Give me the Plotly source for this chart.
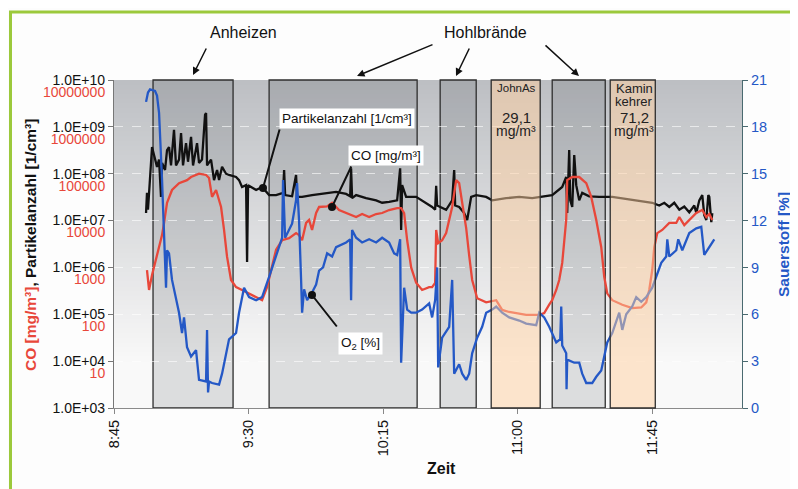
import plotly.graph_objects as go

DAY = "2010-01-01 "

# ---------------- data ----------------
# Partikelanzahl [1/cm3]
pn_time = ["08:55:43", "08:56:02", "08:56:22", "08:56:43", "08:57:23", "08:57:43", "08:58:23", "08:59:23",
           "09:00:04", "09:00:43", "09:01:04", "09:02:04", "09:02:44", "09:03:24", "09:04:04", "09:05:04",
           "09:05:44", "09:06:45", "09:07:25", "09:08:05", "09:09:05", "09:09:45", "09:10:46", "09:11:26",
           "09:12:46", "09:13:26", "09:14:26", "09:15:27", "09:15:47", "09:16:07", "09:17:27", "09:18:27",
           "09:19:28", "09:20:08", "09:21:08", "09:22:28", "09:23:28", "09:25:49", "09:26:49", "09:27:49",
           "09:29:10", "09:29:30", "09:29:50", "09:32:31", "09:34:31", "09:36:52", "09:39:12", "09:41:32",
           "09:41:53", "09:42:13", "09:44:33", "09:45:53", "09:46:13", "09:47:54", "09:51:14", "09:55:56",
           "09:59:16", "10:02:37", "10:03:58", "10:04:17", "10:04:37", "10:05:58", "10:09:18", "10:12:39",
           "10:14:40", "10:17:00", "10:19:41", "10:20:41", "10:21:01", "10:21:21", "10:22:41", "10:26:02",
           "10:29:23", "10:31:23", "10:32:23", "10:32:44", "10:33:04", "10:36:04", "10:38:05", "10:38:45",
           "10:39:05", "10:40:25", "10:42:06", "10:43:06", "10:44:26", "10:46:07", "10:49:27", "10:51:28",
           "10:56:09", "11:00:30", "11:04:51", "11:11:32", "11:14:53", "11:16:13", "11:16:33", "11:17:13",
           "11:17:34", "11:18:14", "11:18:54", "11:19:34", "11:20:34", "11:21:34", "11:23:55", "11:27:16",
           "11:31:37", "11:34:58", "11:39:38", "11:42:59", "11:44:59", "11:47:20", "11:49:01", "11:50:41",
           "11:52:21", "11:54:02", "11:55:42", "11:57:22", "11:59:03", "11:59:43", "12:00:43", "12:01:43",
           "12:02:23", "12:03:04", "12:03:44", "12:04:04", "12:04:44", "12:05:04"]
pn_value = [1.45e7, 3.9e7, 1.7e7, 4.5e7, 2.0e8, 3.7e8, 2.5e8, 1.4e8,
            2.0e8, 3.2e7, 1.7e8, 1.2e8, 3.2e8, 3.7e8, 1.5e8, 8.6e8,
            1.5e8, 2.0e8, 7.4e8, 1.5e8, 4.5e8, 1.8e8, 6.1e8, 1.5e8,
            4.5e8, 1.7e8, 2.0e8, 1.8e9, 1.98e9, 1.5e8, 2.0e8, 7.3e7,
            1.2e8, 7.3e7, 1.4e8, 1.0e8, 9.4e7, 8.5e7, 7.3e7, 5.2e7,
            5.7e7, 1.3e6, 5.7e7, 4.5e7, 5.2e7, 3.5e7, 3.5e7, 3.9e7,
            1.2e8, 3.5e7, 3.3e7, 9.4e7, 3.2e7, 3.2e7, 3.5e7, 3.9e7,
            4.1e7, 3.7e7, 3.3e7, 1.3e8, 3.0e7, 3.5e7, 3.0e7, 2.7e7,
            2.4e7, 2.5e7, 2.7e7, 1.3e8, 6.3e6, 5.7e7, 3.2e7, 3.2e7,
            2.4e7, 1.95e7, 1.7e7, 5.5e7, 2.1e7, 1.7e7, 2.7e7, 1.2e8,
            2.1e7, 1.95e7, 1.45e7, 1.03e7, 3.2e7, 3.5e7, 3.2e7, 2.7e7,
            3.0e7, 3.2e7, 3.0e7, 3.5e7, 5.2e7, 8.5e7, 1.45e7, 3.2e8,
            2.7e7, 1.95e7, 2.5e8, 5.7e7, 2.7e7, 3.9e7, 3.3e7, 3.2e7,
            3.2e7, 3.0e7, 2.7e7, 2.5e7, 2.4e7, 2.1e7, 2.4e7, 1.95e7,
            2.4e7, 1.7e7, 2.0e7, 1.5e7, 2.1e7, 1.45e7, 2.7e7, 3.5e7,
            1.3e7, 1.03e7, 3.5e7, 3.2e7, 9.3e6, 1.45e7]

# CO [mg/m3]
co_time = ["08:56:02", "08:56:43", "08:57:43", "08:58:43", "09:00:04", "09:01:04", "09:01:44", "09:02:44",
           "09:04:24", "09:06:45", "09:09:25", "09:10:46", "09:13:26", "09:15:47", "09:16:47", "09:17:47",
           "09:19:08", "09:20:48", "09:21:48", "09:22:48", "09:24:08", "09:25:49", "09:27:49", "09:30:10",
           "09:32:31", "09:34:31", "09:36:11", "09:37:52", "09:39:12", "09:41:13", "09:43:33", "09:45:53",
           "09:46:53", "09:47:54", "09:49:14", "09:50:14", "09:51:14", "09:52:35", "09:53:35", "09:56:16",
           "09:57:56", "10:00:16", "10:02:37", "10:04:37", "10:05:58", "10:07:58", "10:10:19", "10:12:39",
           "10:14:40", "10:17:00", "10:19:41", "10:21:01", "10:22:01", "10:23:02", "10:24:22", "10:26:02",
           "10:28:02", "10:30:23", "10:31:23", "10:32:23", "10:32:44", "10:33:24", "10:34:44", "10:36:04",
           "10:37:05", "10:38:05", "10:39:25", "10:40:25", "10:41:26", "10:42:46", "10:43:46", "10:44:46",
           "10:46:27", "10:48:07", "10:49:27", "10:52:48", "10:54:48", "10:57:09", "11:00:30", "11:02:50",
           "11:07:11", "11:08:52", "11:10:32", "11:11:32", "11:12:53", "11:13:53", "11:14:53", "11:16:13",
           "11:16:33", "11:18:14", "11:20:34", "11:22:55", "11:24:35", "11:26:16", "11:27:56", "11:28:56",
           "11:29:56", "11:31:37", "11:34:58", "11:38:18", "11:41:19", "11:42:59", "11:43:59", "11:44:59",
           "11:45:40", "11:46:40", "11:48:20", "11:50:41", "11:53:01", "11:54:02", "11:55:42", "11:57:22",
           "11:59:43", "12:01:43", "12:03:04", "12:04:04", "12:05:04"]
co_value = [880, 330, 690, 1300, 3000, 4900, 8900, 24000,
            45000, 63000, 73000, 85000, 100000, 94000, 81000, 32000,
            45000, 19500, 6300, 1700, 540, 380, 330, 280,
            230, 200, 380, 1000, 2400, 3800, 4200, 5400,
            4900, 3800, 8900, 10300, 6300, 14500, 19500, 20000,
            24000, 16800, 14500, 13100, 11900, 13800, 11900, 13800,
            14500, 16800, 18500, 18500, 14500, 3800, 1000, 470,
            330, 380, 380, 470, 6300, 3300, 3800, 5400,
            10300, 19500, 73000, 63000, 24000, 6900, 1800, 540,
            220, 200, 180, 200, 124, 112, 101, 97,
            97, 106, 160, 200, 330, 540, 1250, 10300,
            73000, 85000, 85000, 63000, 32000, 10300, 2700, 630,
            280, 200, 160, 136, 140, 180, 330, 880,
            2700, 5400, 6300, 8900, 8900, 11900, 8000, 10300,
            14500, 16800, 11900, 13800, 10300]

# Sauerstoff [%]
o2_time = ["08:55:43", "08:56:22", "08:57:03", "08:58:43", "08:59:23", "09:00:04", "09:01:04", "09:01:44",
           "09:02:04", "09:02:24", "09:02:44", "09:03:24", "09:04:24", "09:05:44", "09:06:45", "09:07:45",
           "09:08:25", "09:09:25", "09:10:46", "09:12:26", "09:13:26", "09:15:47", "09:16:07", "09:16:27",
           "09:16:47", "09:17:47", "09:20:08", "09:21:08", "09:22:28", "09:23:28", "09:25:49", "09:26:49",
           "09:28:29", "09:30:10", "09:32:31", "09:34:31", "09:36:52", "09:39:12", "09:40:12", "09:41:13",
           "09:41:32", "09:42:13", "09:44:33", "09:45:53", "09:46:13", "09:46:53", "09:47:34", "09:47:54",
           "09:48:34", "09:49:34", "09:51:14", "09:52:35", "09:53:35", "09:54:55", "09:56:16", "09:57:56",
           "09:59:16", "10:02:37", "10:03:58", "10:04:17", "10:04:37", "10:05:58", "10:07:58", "10:10:19",
           "10:12:39", "10:14:40", "10:17:00", "10:18:41", "10:19:41", "10:20:41", "10:21:01", "10:22:01",
           "10:23:02", "10:24:22", "10:26:02", "10:28:02", "10:30:23", "10:31:23", "10:32:23", "10:33:04",
           "10:33:24", "10:34:44", "10:37:05", "10:38:05", "10:38:45", "10:40:25", "10:41:26", "10:42:46",
           "10:43:46", "10:44:46", "10:46:27", "10:48:07", "10:49:27", "10:51:28", "10:52:48", "10:54:48",
           "10:57:09", "11:00:30", "11:02:50", "11:06:11", "11:07:11", "11:08:52", "11:10:32", "11:12:53",
           "11:14:13", "11:14:33", "11:14:53", "11:16:13", "11:16:20", "11:16:33", "11:18:54", "11:20:34",
           "11:21:34", "11:22:55", "11:24:55", "11:26:16", "11:27:56", "11:28:56", "11:29:56", "11:31:37",
           "11:32:57", "11:33:57", "11:34:58", "11:36:17", "11:38:18", "11:39:38", "11:41:19", "11:42:59",
           "11:44:59", "11:46:40", "11:48:00", "11:49:40", "11:50:01", "11:50:41", "11:53:01", "11:53:41",
           "11:55:02", "11:57:22", "11:59:43", "12:01:23", "12:01:43", "12:02:23", "12:03:44", "12:05:44"]
o2_value = [19.6, 20.2, 20.4, 20.3, 20.0, 18.9, 14.6, 11.4,
            10.3, 7.7, 10.1, 9.9, 8.2, 6.9, 6.1, 4.8,
            5.8, 3.9, 3.3, 3.7, 1.8, 1.7, 5.0, 1.0,
            1.7, 1.6, 1.5, 2.2, 3.5, 4.4, 4.8, 6.1,
            7.7, 7.1, 6.9, 7.1, 8.4, 9.7, 10.3, 10.9,
            14.6, 10.9, 11.8, 13.3, 14.4, 12.0, 8.2, 6.1,
            7.6, 6.9, 7.4, 7.9, 8.8, 9.0, 9.9, 9.7,
            10.3, 10.6, 10.8, 6.9, 11.4, 10.9, 10.6, 10.8,
            10.6, 10.9, 10.6, 9.9, 9.8, 10.8, 2.9, 7.7,
            6.3, 6.1, 6.1, 6.3, 6.7, 5.8, 6.9, 9.0,
            2.6, 4.5, 5.2, 8.2, 2.2, 2.8, 2.2, 1.8,
            2.2, 3.5, 4.5, 5.2, 6.1, 6.3, 6.5, 6.1,
            5.8, 5.6, 5.4, 5.3, 6.1, 5.8, 5.2, 4.2,
            4.4, 6.5, 4.0, 3.5, 1.2, 3.1, 2.9, 2.9,
            2.2, 1.6, 1.6, 2.0, 2.4, 3.3, 4.2, 4.8,
            5.6, 6.1, 5.0, 6.0, 6.5, 7.1, 6.8, 7.1,
            7.7, 8.6, 9.3, 9.7, 10.8, 9.7, 10.1, 10.8,
            10.1, 11.2, 11.5, 11.6, 10.8, 9.8, 10.2, 10.8]

# marked phases
phase_start = ["08:58:03", "09:36:52", "10:34:04", "10:51:08", "11:11:32", "11:30:56"]
phase_end = ["09:24:49", "10:26:22", "10:46:07", "11:07:31", "11:29:16", "11:46:00"]
phase_kind = ["Feuer", "Feuer", "Feuer", "Messung", "Feuer", "Messung"]

x_tick_times = ["08:45", "09:30", "10:15", "11:00", "11:45"]
x_tick_labels = ["8:45", "9:30", "10:15", "11:00", "11:45"]
pn_tick_vals = [1e3, 1e4, 1e5, 1e6, 1e7, 1e8, 1e9, 1e10]
pn_tick_labels = ["1.0E+03", "1.0E+04", "1.0E+05", "1.0E+06", "1.0E+07", "1.0E+08", "1.0E+09", "1.0E+10"]
co_tick_vals = [1e1, 1e2, 1e3, 1e4, 1e5, 1e6, 1e7]
co_tick_labels = ["10", "100", "1000", "10000", "100000", "1000000", "10000000"]
o2_tick_vals = [0, 3, 6, 9, 12, 15, 18, 21]

# ---------------- styling / geometry ----------------
# page coordinates of the reference; the page body adds an 8 px offset
OFF = 8
W, H = 798, 489
L, R, T, B = 114, 742, 80, 408
FONT = "Liberation Sans, Arial, sans-serif"
RED = "#e8473a"
BLUE = "#2458c6"
GREEN = "#9cc93c"


def px(x):
    return (x - L) / (R - L)


def py(y):
    return (B - y) / (B - T)


fig = go.Figure()
fig.add_trace(go.Scatter(x=[DAY + t for t in pn_time], y=pn_value, mode="lines",
                         line=dict(color="#111111", width=2.3), yaxis="y", name="Partikelanzahl"))
fig.add_trace(go.Scatter(x=[DAY + t for t in co_time], y=co_value, mode="lines",
                         line=dict(color=RED, width=2.3), yaxis="y2", name="CO"))
fig.add_trace(go.Scatter(x=[DAY + t for t in o2_time], y=o2_value, mode="lines",
                         line=dict(color=BLUE, width=2.3), yaxis="y3", name="O2"))

shapes = []
# background gradient (bands): grey at the top, fading to near-white low in the plot
n = 70
top_c = (188, 191, 195)
bot_c = (249, 249, 249)
fade_end = 0.13
for i in range(n):
    f0, f1 = i / n, (i + 1) / n
    t = (f0 + f1) / 2
    u = max(0.0, (t - fade_end) / (1 - fade_end))
    c = tuple(round(bot_c[k] + (top_c[k] - bot_c[k]) * u) for k in range(3))
    shapes.append(dict(type="rect", xref="paper", yref="paper", x0=0, x1=1, y0=f0, y1=min(1, f1 + 0.003),
                       fillcolor="rgb(%d,%d,%d)" % c, line=dict(width=0), layer="below"))
# phases
for s, e, k in zip(phase_start, phase_end, phase_kind):
    if k == "Feuer":
        shapes.append(dict(type="rect", xref="x", yref="y domain", x0=DAY + s, x1=DAY + e, y0=0, y1=1,
                           fillcolor="rgba(30,40,50,0.13)", line=dict(color="#2e2e2e", width=1.3),
                           layer="below"))
    else:
        shapes.append(dict(type="rect", xref="x", yref="y domain", x0=DAY + s, x1=DAY + e, y0=0, y1=1,
                           fillcolor="rgba(255,208,160,0.5)", line=dict(color="#2e2e2e", width=1.3),
                           layer="above"))
# green frame
shapes.append(dict(type="line", xref="paper", yref="paper", x0=px(9), x1=px(800), y0=py(12), y1=py(12),
                   line=dict(color=GREEN, width=3)))
shapes.append(dict(type="line", xref="paper", yref="paper", x0=px(10.5), x1=px(10.5), y0=py(11), y1=py(492),
                   line=dict(color=GREEN, width=3)))

ann = []
ann.append(dict(x=px(243), y=py(32), text="Anheizen", showarrow=False, font=dict(size=16, color="#111")))
ann.append(dict(x=px(485), y=py(32), text="Hohlbrände", showarrow=False, font=dict(size=16, color="#111")))
for (hx, hy), (tx, ty) in [((193, 75), (207, 47)), ((357, 76), (434, 44)),
                           ((456, 76), (470, 47)), ((579, 76), (544, 44))]:
    ann.append(dict(x=px(hx), y=py(hy), ax=tx - hx, ay=ty - hy, text="", showarrow=True,
                    arrowhead=2, arrowsize=1, arrowwidth=1.5, arrowcolor="#111"))
# callouts
for (tx, ty, txt) in [(347, 118, "Partikelanzahl [1/cm³]"), (386, 155, "CO [mg/m³]"),
                      (360, 343, "O<sub>2</sub> [%]")]:
    ann.append(dict(x=px(tx), y=py(ty), text=txt, showarrow=False, bgcolor="white", borderpad=2,
                    font=dict(size=13.5, color="#111")))
for (hx, hy), (tx, ty) in [((263, 188), (280, 128)), ((332, 207), (352, 165)), ((312, 295), (338, 328))]:
    ann.append(dict(x=px(hx), y=py(hy), ax=tx - hx, ay=ty - hy, text="", showarrow=True,
                    arrowhead=6, arrowsize=1, arrowwidth=2, arrowcolor="#111", standoff=0))
# texts inside measurement boxes
for (x, y, txt, sz) in [(516, 88, "JohnAs", 11.5), (516, 117, "29,1", 15), (516, 131, "mg/m³", 14),
                        (634, 88, "Kamin", 13), (634, 102, "kehrer", 13), (634, 117, "71,2", 15),
                        (634, 131, "mg/m³", 14)]:
    ann.append(dict(x=px(x), y=py(y), text=txt, showarrow=False, font=dict(size=sz, color="#222")))
# axis titles
ann.append(dict(x=px(30), y=py(245), textangle=-90, showarrow=False,
                text="<b><span style='color:%s'>CO [mg/m³]</span>, Partikelanzahl [1/cm³]</b>" % RED,
                font=dict(size=15.5, color="#111")))
ann.append(dict(x=px(783), y=py(245), textangle=-90, showarrow=False, text="<b>Sauerstoff [%]</b>",
                font=dict(size=15.5, color=BLUE)))
ann.append(dict(x=px(441), y=py(468), showarrow=False, text="<b>Zeit</b>", font=dict(size=16, color="#111")))
for a in ann:
    a.setdefault("xref", "paper")
    a.setdefault("yref", "paper")
    a.setdefault("xanchor", "center")
    a.setdefault("yanchor", "middle")

fig.update_layout(
    width=W - OFF, height=H - OFF,
    margin=dict(l=L - OFF, r=W - R, t=T - OFF, b=H - B, pad=0),
    paper_bgcolor="#fdfdfd", plot_bgcolor="#f0f0f0",
    showlegend=False,
    font=dict(family=FONT, size=14.5, color="#111"),
    shapes=shapes, annotations=ann,
    xaxis=dict(type="date", range=[DAY + "08:45", DAY + "12:15"],
               tickvals=[DAY + t for t in x_tick_times], ticktext=x_tick_labels,
               tickangle=-90, ticks="outside", ticklen=5, tickcolor="#888",
               showline=True, linecolor="#8a8a8a", linewidth=1.2, showgrid=False, zeroline=False,
               tickfont=dict(size=14.5, color="#111")),
    yaxis=dict(type="log", range=[3, 10], tickvals=pn_tick_vals, ticktext=pn_tick_labels,
               ticks="outside", ticklen=5, tickcolor="#777", showline=True, linecolor="#777", linewidth=1.2,
               showgrid=True, gridcolor="rgba(255,255,255,0.6)", griddash="dash", gridwidth=1,
               zeroline=False, tickfont=dict(size=14, color="#111")),
    yaxis2=dict(type="log", range=[0, 7], overlaying="y", side="left", anchor="x",
                tickvals=co_tick_vals, ticktext=co_tick_labels, ticks="outside", ticklen=5,
                tickcolor="rgba(0,0,0,0)", showline=False, showgrid=False, zeroline=False,
                ticklabelshift=12, tickfont=dict(size=14, color=RED)),
    yaxis3=dict(range=[0, 21], overlaying="y", side="right", anchor="x", tickvals=o2_tick_vals,
                ticks="outside", ticklen=5, tickcolor="#4a6a70", showline=True, linecolor="#4a6a70",
                linewidth=1.2, showgrid=False, zeroline=False, tickfont=dict(size=14.5, color=BLUE)),
)

fig.write_html("out.html")
